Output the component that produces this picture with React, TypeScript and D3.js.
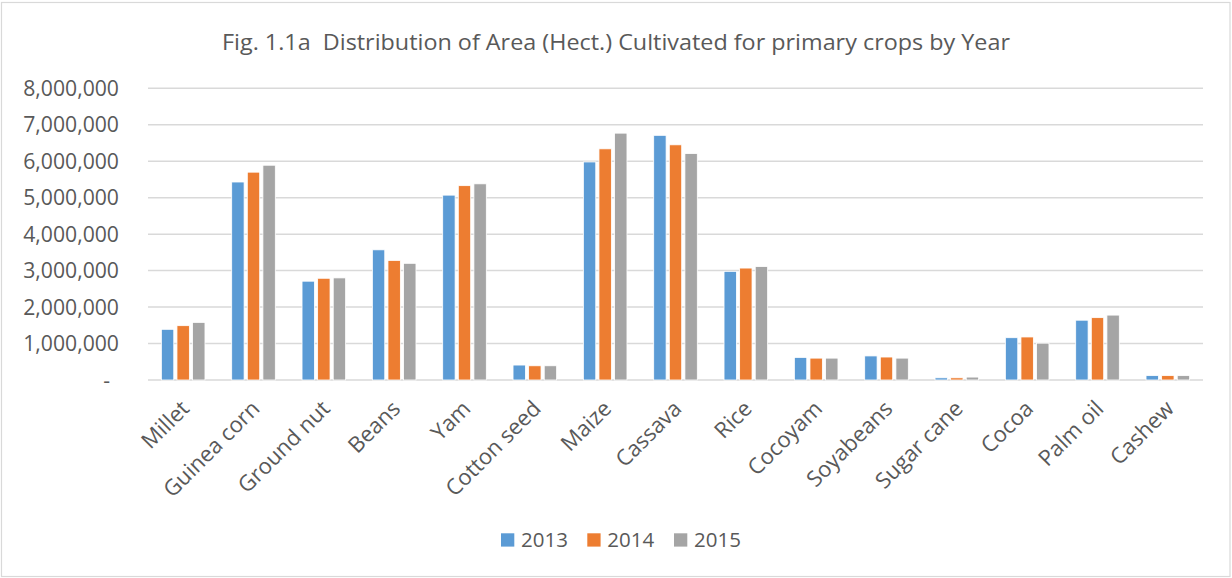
import React from "react";
import * as d3 from "d3";

const categories = ["Millet", "Guinea corn", "Ground nut", "Beans", "Yam", "Cotton seed", "Maize", "Cassava", "Rice", "Cocoyam", "Soyabeans", "Sugar cane", "Cocoa", "Palm oil", "Cashew"];
const years = ["2013", "2014", "2015"];
const values2013 = [1390000, 5430000, 2710000, 3570000, 5070000, 410000, 5980000, 6710000, 2980000, 620000, 660000, 60000, 1160000, 1640000, 120000];
const values2014 = [1490000, 5700000, 2790000, 3280000, 5330000, 390000, 6340000, 6450000, 3070000, 600000, 630000, 60000, 1180000, 1710000, 120000];
const values2015 = [1580000, 5890000, 2800000, 3200000, 5380000, 390000, 6770000, 6210000, 3110000, 600000, 600000, 80000, 1010000, 1780000, 120000];
const yTicks = [0, 1000000, 2000000, 3000000, 4000000, 5000000, 6000000, 7000000, 8000000];
const colors = ["#5b9bd5", "#ed7d31", "#a5a5a5"];
const title = "Fig. 1.1a  Distribution of Area (Hect.) Cultivated for primary crops by Year";

export default function App() {
  const W = 1232, H = 578;
  const left = 148, right = 1203, top = 88.3, bottom = 380;
  const series = [values2013, values2014, values2015];
  const x0 = d3.scaleBand<string>().domain(categories).range([left, right]).padding(0);
  const groupW = 43.6;
  const x1 = d3.scaleBand<string>().domain(years).range([0, groupW]).paddingInner(0.205).paddingOuter(0);
  const y = d3.scaleLinear().domain([0, 8000000]).range([bottom, top]);
  const fmt = d3.format(",");
  const font = "'Open Sans', sans-serif";
  const textColor = "#595959";
  return (
    <svg width={W} height={H} style={{ position: "absolute", left: 0, top: 0 }} fontFamily={font}>
      <rect x={0} y={0} width={W} height={H} fill="#fff" />
      <rect x={1.5} y={2.5} width={1228.5} height={574} fill="none" stroke="#d9d9d9" strokeWidth={1.2} />
      <text x={616} y={50} textAnchor="middle" fontSize={21} fill={textColor} textLength={788} lengthAdjust="spacingAndGlyphs" style={{ whiteSpace: "pre" }}>{title}</text>
      {yTicks.map((t) => (
        <g key={t}>
          <line x1={left} x2={right} y1={y(t)} y2={y(t)} stroke="#d9d9d9" strokeWidth={1.5} />
          <text x={t === 0 ? 110 : 119} y={y(t)} dy="0.36em" textAnchor="end" fontSize={21.2} fill={textColor}>
            {t === 0 ? "-" : fmt(t)}
          </text>
        </g>
      ))}
      {categories.map((c, ci) => {
        const cx = (x0(c) as number) + x0.bandwidth() / 2;
        const gx = cx - groupW / 2;
        return (
          <g key={c}>
            {series.map((s, si) => (
              <rect key={si} x={gx + (x1(years[si]) as number)} y={y(s[ci])} width={x1.bandwidth()} height={bottom - y(s[ci])} fill={colors[si]} stroke="#fff" strokeWidth={0.8} />
            ))}
            <text transform={`translate(${cx + 7.5},${410}) rotate(-45)`} textAnchor="end" fontSize={22} fill={textColor}>
              {c}
            </text>
          </g>
        );
      })}
      {years.map((yr, i) => {
        const lx = [501, 587.3, 674][i];
        return (
          <g key={yr}>
            <rect x={lx} y={533.3} width={13.3} height={13.3} fill={colors[i]} />
            <text x={lx + 20} y={540} dy="0.36em" fontSize={20.5} fill={textColor}>{yr}</text>
          </g>
        );
      })}
    </svg>
  );
}
